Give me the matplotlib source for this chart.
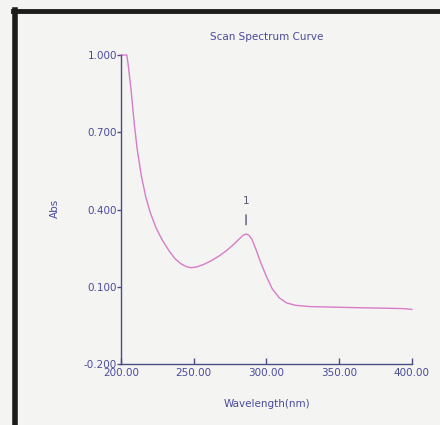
import matplotlib
matplotlib.use("Agg")
import matplotlib.pyplot as plt
from matplotlib.lines import Line2D

wavelength = [200, 204, 205, 207, 209, 211, 214, 217, 220, 224, 228, 233, 237,
              241, 245, 248, 252, 257, 262, 267, 272, 277, 281, 284, 286, 288,
              290, 293, 296, 300, 304, 309, 314, 320, 330, 345, 360, 380, 395,
              400]
absorb = [1.000, 1.000, 0.960, 0.860, 0.740, 0.640, 0.530, 0.450, 0.390, 0.330,
          0.285, 0.240, 0.210, 0.190, 0.178, 0.174, 0.177, 0.187, 0.201, 0.218,
          0.238, 0.262, 0.284, 0.300, 0.305, 0.300, 0.285, 0.242, 0.195, 0.140,
          0.092, 0.056, 0.037, 0.028, 0.023, 0.021, 0.019, 0.017, 0.015, 0.012]
peak_label = "1"
peak_x = 286
peak_y = 0.305
x_ticks = [200, 250, 300, 350, 400]
y_ticks = [-0.2, 0.1, 0.4, 0.7, 1.0]

bg = "#f4f4f2"
txt = "#4a4a9c"
axc = "#4c4c86"
curve = "#d77cc8"

fig = plt.figure(figsize=(4.4, 4.25), dpi=100, facecolor=bg)
ax = fig.add_axes([0.275, 0.1435, 0.661, 0.727], facecolor=bg)
ax.plot(wavelength, absorb, color=curve, lw=1.0, clip_on=False,
        solid_joinstyle="round")
ax.set_xlim(200, 400)
ax.set_ylim(-0.2, 1.0)
for s in ["top", "right"]:
    ax.spines[s].set_visible(False)
for s in ["left", "bottom"]:
    ax.spines[s].set_color(axc)
    ax.spines[s].set_linewidth(1.0)
ax.set_xticks(x_ticks)
ax.set_xticklabels([f"{v:.2f}" for v in x_ticks])
ax.set_yticks(y_ticks)
ax.set_yticklabels([f"{v:.3f}" for v in y_ticks])
ax.tick_params(axis="x", direction="in", length=4, width=1, color=axc,
               labelcolor=txt, labelsize=7.5, pad=3)
ax.tick_params(axis="y", direction="out", length=3, width=1, color=axc,
               labelcolor=txt, labelsize=7.5, pad=0)

ax.annotate("", xy=(peak_x, peak_y + 0.025), xytext=(peak_x, peak_y + 0.085),
            arrowprops=dict(arrowstyle="-", color="#555577", lw=1.0))
ax.text(peak_x, peak_y + 0.13, peak_label, ha="center", va="center",
        fontsize=7.5, color="#555577")

fig.text(0.607, 0.913, "Scan Spectrum Curve", ha="center", va="center",
         fontsize=7.5, color=txt)
fig.text(0.607, 0.049, "Wavelength(nm)", ha="center", va="center",
         fontsize=7.5, color=txt)
fig.text(0.125, 0.51, "Abs", ha="center", va="center", rotation=90,
         fontsize=7.5, color=txt)

# photo frame (left and top black border)
fig.add_artist(Line2D([15 / 440, 15 / 440], [0, 1 - 10 / 425],
                      transform=fig.transFigure, color="#1c1c1c", lw=4))
fig.add_artist(Line2D([13 / 440, 1], [1 - 11 / 425, 1 - 11 / 425],
                      transform=fig.transFigure, color="#1c1c1c", lw=3.5))

fig.savefig("out.png", dpi=100, facecolor=bg)
